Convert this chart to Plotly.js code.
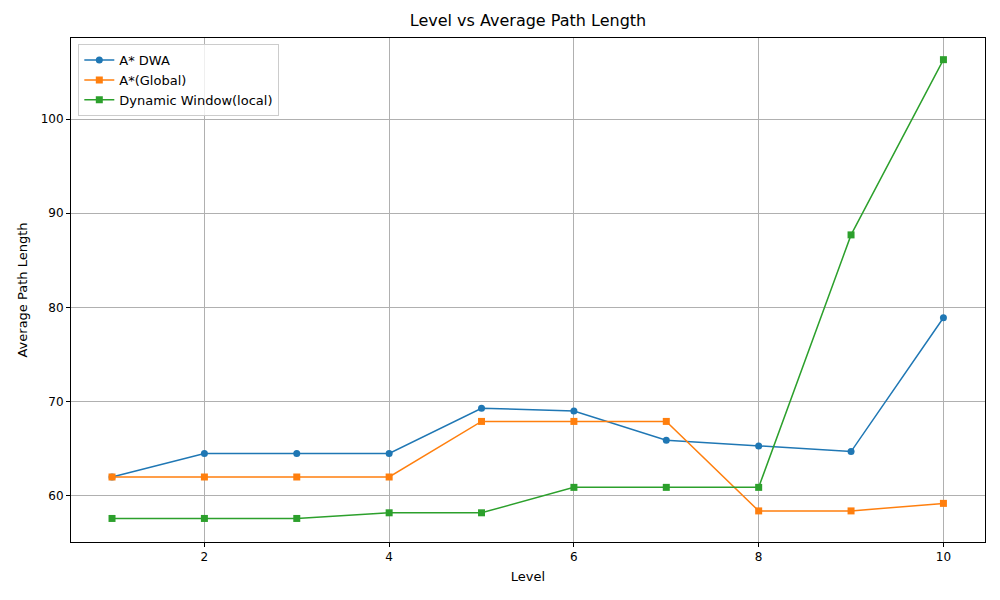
<!DOCTYPE html>
<html>
<head>
<script src="https://cdn.plot.ly/plotly-3.0.1.min.js"></script>
<style>body{margin:0;}</style>
</head>
<body>
<div id="graph" style="width:1000px;height:600px;"></div>
<script>
var levels = [1, 2, 3, 4, 5, 6, 7, 8, 9, 10];
var astarDwa = [62.0, 64.5, 64.5, 64.5, 69.3, 69.0, 65.9, 65.3, 64.7, 78.9];
var astarGlobal = [62.0, 62.0, 62.0, 62.0, 67.9, 67.9, 67.9, 58.4, 58.4, 59.2];
var dwaLocal = [57.6, 57.6, 57.6, 58.2, 58.2, 60.9, 60.9, 60.9, 87.7, 106.3];

function makeTrace(y, name, color, symbol) {
    return {
        x: levels, y: y, name: name, mode: 'lines+markers', type: 'scatter',
        line: {color: color, width: 1.5},
        marker: {color: color, symbol: symbol, size: 7}
    };
}

var data = [
    makeTrace(astarDwa, 'A* DWA', '#1f77b4', 'circle'),
    makeTrace(astarGlobal, 'A*(Global)', '#ff7f0e', 'square'),
    makeTrace(dwaLocal, 'Dynamic Window(local)', '#2ca02c', 'square')
];

var axisStyle = {
    showline: true, mirror: true, linecolor: 'black', linewidth: 1,
    showgrid: true, gridcolor: '#b0b0b0', gridwidth: 1,
    ticks: 'outside', ticklen: 4, tickcolor: 'black', zeroline: false,
    tickfont: {size: 12, color: 'black'}
};

var layout = {
    width: 1000, height: 600,
    font: {family: 'DejaVu Sans', color: 'black'},
    paper_bgcolor: 'white', plot_bgcolor: 'white',
    margin: {l: 71, r: 15, t: 38, b: 58},
    title: {text: 'Level vs Average Path Length', font: {size: 16}, x: 0.528, y: 0.975},
    xaxis: Object.assign({}, axisStyle, {
        range: [0.556, 10.45], tickvals: [2, 4, 6, 8, 10],
        title: {text: 'Level', font: {size: 13}, standoff: 8}
    }),
    yaxis: Object.assign({}, axisStyle, {
        range: [55.1, 108.6], tickvals: [60, 70, 80, 90, 100],
        title: {text: 'Average Path Length', font: {size: 13}, standoff: 10}
    }),
    legend: {
        x: 0.008, y: 0.988, xanchor: 'left', yanchor: 'top',
        bgcolor: 'rgba(255,255,255,0.8)', bordercolor: '#cccccc', borderwidth: 1,
        font: {size: 13}
    },
    showlegend: true
};

Plotly.newPlot('graph', data, layout, {displayModeBar: false});
</script>
</body>
</html>
